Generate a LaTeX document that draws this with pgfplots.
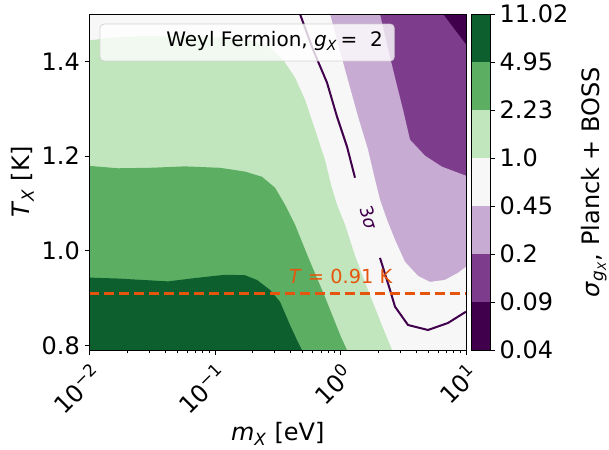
\documentclass[border=0pt]{standalone}
\usepackage{pgfplots}
\pgfplotsset{compat=1.18}
\usepackage{fontspec}
\setmainfont{DejaVu Sans}
\definecolor{c1}{HTML}{40004B}
\definecolor{c2}{HTML}{7E3C8D}
\definecolor{c3}{HTML}{C8ABD3}
\definecolor{c4}{HTML}{F7F7F7}
\definecolor{c5}{HTML}{C1E5BD}
\definecolor{c6}{HTML}{5CAE63}
\definecolor{c7}{HTML}{0E5F2E}
\definecolor{lineor}{HTML}{E6550D}
\definecolor{sigline}{HTML}{40004B}
\newcommand{\bigf}{\fontsize{18}{21}\selectfont}
\begin{document}
\begin{tikzpicture}
\begin{axis}[
  at={(0pt,0pt)}, anchor=south west,
  scale only axis, width=282.375pt, height=252pt,
  xmode=log, xmin=0.01, xmax=10, ymin=0.79, ymax=1.5,
  xtick={0.01,0.1,1,10},
  xticklabels={10\textsuperscript{−2},10\textsuperscript{−1},10\textsuperscript{0},10\textsuperscript{1}},
  ytick={0.8,1.0,1.2,1.4},
  yticklabels={0.8,1.0,1.2,1.4},
  xtick pos=left, ytick pos=left,
  tick align=outside,
  major tick length=3.75pt, minor tick length=2.25pt,
  tick style={black, line width=0.6pt},
  axis line style={line width=0.6pt},
  xticklabel style={rotate=45, anchor=north east, font=\bigf},
  yticklabel style={font=\bigf},
  xlabel={\textit{m}\textsubscript{\textit{X}} [eV]},
  ylabel={\textit{T}\textsubscript{\textit{X}} [K]},
  label style={font=\bigf},
  xlabel style={at={(axis description cs:0.5,-0.25)}, anchor=center},
  ylabel style={at={(axis description cs:-0.178,0.5)}, anchor=center},
  axis on top,
]
\coordinate (sw) at (rel axis cs:0,0);
% sigma < 0.09 (background)
\addplot[fill=c1, draw=none] coordinates {(0.01,0.79) (10,0.79) (10,1.5) (0.01,1.5)} -- cycle;
% sigma >= 0.09
\addplot[fill=c2, draw=none] coordinates {(0.01,0.79) (0.01,1.5) (6.557,1.5) (10,1.4355) (10,0.79)} -- cycle;
% sigma >= 0.2
\addplot[fill=c3, draw=none] coordinates {(0.01,0.79) (0.01,1.5) (2.064,1.5) (2.347,1.4355) (2.718,1.3657) (3.148,1.298) (3.579,1.2344) (4.713,1.2006) (6.439,1.1773) (10,1.1583) (10,0.79)} -- cycle;
% sigma >= 0.45
\addplot[fill=c4, draw=none] coordinates {(0.01,0.79) (0.01,1.5) (0.8249,1.5) (1.086,1.3826) (1.379,1.2831) (1.656,1.2133) (1.884,1.1498) (2.064,1.1075) (2.347,1.0651) (2.718,1.0228) (3.265,0.9762) (4.144,0.9466) (5.166,0.9339) (6.803,0.9381) (8.636,0.953) (10,0.9657) (10,0.79)} -- cycle;
% sigma >= 1.0
\addplot[fill=c5, draw=none] coordinates {(0.01,0.79) (0.01,1.444) (0.01457,1.450) (0.02526,1.4535) (0.05261,1.4524) (0.1317,1.450) (0.2083,1.442) (0.2744,1.429) (0.3482,1.4038) (0.4340,1.3657) (0.5213,1.319) (0.6263,1.2556) (0.7523,1.192) (0.8403,1.139) (0.9378,1.097) (1.086,1.055) (1.305,0.989) (1.656,0.917) (2.102,0.847) (2.573,0.79)} -- cycle;
% sigma >= 2.23
\addplot[fill=c6, draw=none] coordinates {(0.01,0.79) (0.01,1.179) (0.01687,1.174) (0.03034,1.175) (0.05768,1.178) (0.1096,1.175) (0.1734,1.167) (0.2368,1.156) (0.3007,1.133) (0.3612,1.097) (0.4340,1.055) (0.5508,0.987) (0.7523,0.902) (1.009,0.8175) (1.127,0.79)} -- cycle;
% sigma >= 4.95
\addplot[fill=c7, draw=none] coordinates {(0.01,0.79) (0.01,0.943) (0.01687,0.941) (0.0422,0.935) (0.0693,0.942) (0.1201,0.949) (0.1734,0.948) (0.2161,0.938) (0.2744,0.917) (0.3296,0.892) (0.3959,0.843) (0.4501,0.811) (0.4934,0.79)} -- cycle;
% 3 sigma contour
\addplot[sigline, line width=1.5pt] coordinates {(0.4756,1.5) (0.6037,1.4249) (0.7805,1.3551) (0.9378,1.2831) (1.127,1.2196) (1.305,1.154)};
\addplot[sigline, line width=1.5pt] coordinates {(2.064,0.9847) (2.480,0.917) (2.718,0.8816) (3.450,0.8429) (4.980,0.8323) (7.187,0.8471) (10,0.871)};
\node[sigline, rotate=-72, font=\fontsize{13.5}{15}\selectfont] at (axis cs:1.687,1.069) {3\textit{σ}};
% T = 0.91 K
\addplot[lineor, line width=2pt, dash pattern=on 7.5pt off 3.75pt] coordinates {(0.01,0.91) (10,0.91)};
\node[lineor, font=\fontsize{14.5}{17}\selectfont] at (axis cs:1.0,0.946) {\textit{T} = 0.91 K};
% legend
\draw[draw=black!20, draw opacity=0.8, fill=white, fill opacity=0.8, rounded corners=3pt, line width=0.6pt]
  (rel axis cs:0.0279,0.8601) rectangle (rel axis cs:0.8096,0.9702);
\node[anchor=base west, font=\fontsize{15}{18}\selectfont, inner sep=0pt] at (rel axis cs:0.2032,0.9027)
  {Weyl Fermion, \textit{g}\textsubscript{\textit{X}}\,=\ \ 2};
\end{axis}
\begin{axis}[
  at={(286.125pt,0pt)}, anchor=south west,
  scale only axis, width=14.25pt, height=252pt,
  xmin=0, xmax=1, ymin=0, ymax=7,
  xtick=\empty, ytick={0,1,2,3,4,5,6,7},
  yticklabels={0.04,0.09,0.2,0.45,1.0,2.23,4.95,11.02},
  ytick pos=right, yticklabel pos=right, tick align=outside,
  major tick length=3.75pt,
  tick style={black, line width=0.6pt},
  axis line style={line width=0.6pt},
  yticklabel style={font=\bigf},
  ylabel={\textit{σ}\textsubscript{\textit{g}\textsubscript{\textit{X}}}, Planck + BOSS},
  ylabel style={at={(axis description cs:6.47,0.5)}, anchor=center, font=\bigf},
  axis on top,
]
\addplot[fill=c1, draw=none] coordinates {(0,0) (1,0) (1,1) (0,1)} -- cycle;
\addplot[fill=c2, draw=none] coordinates {(0,1) (1,1) (1,2) (0,2)} -- cycle;
\addplot[fill=c3, draw=none] coordinates {(0,2) (1,2) (1,3) (0,3)} -- cycle;
\addplot[fill=c4, draw=none] coordinates {(0,3) (1,3) (1,4) (0,4)} -- cycle;
\addplot[fill=c5, draw=none] coordinates {(0,4) (1,4) (1,5) (0,5)} -- cycle;
\addplot[fill=c6, draw=none] coordinates {(0,5) (1,5) (1,6) (0,6)} -- cycle;
\addplot[fill=c7, draw=none] coordinates {(0,6) (1,6) (1,7) (0,7)} -- cycle;
\end{axis}
\pgfresetboundingbox
\path (sw) ++(-67.125pt,-74.25pt) rectangle ++(456.75pt,336.75pt);
\end{tikzpicture}
\end{document}
